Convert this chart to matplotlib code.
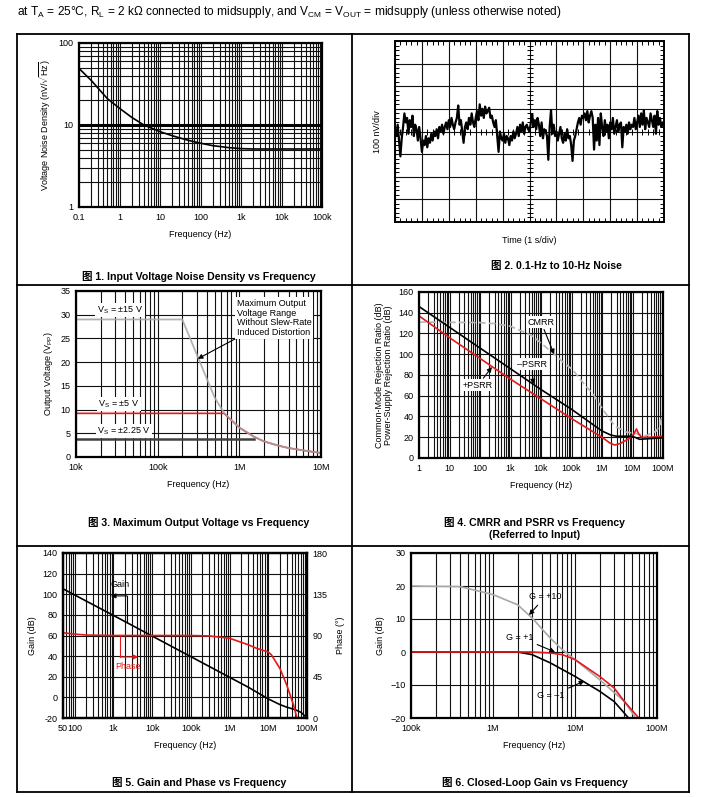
import matplotlib
matplotlib.use("Agg")
import matplotlib.pyplot as plt
import numpy as np
from matplotlib.ticker import LogLocator, NullFormatter, MultipleLocator
from matplotlib.lines import Line2D

plt.rcParams['font.family'] = ['Liberation Sans', 'Noto Sans CJK SC']
plt.rcParams['mathtext.fontset'] = 'custom'
plt.rcParams['mathtext.rm'] = 'Liberation Sans'
plt.rcParams['axes.unicode_minus'] = True

W, H = 714, 797
RED = '#e31a1c'
GRID = '#111111'
FS = 6.5

# ---- data ----
# fig 1: input voltage noise density
noise_f = [0.1, 0.2, 0.5, 1, 2, 4, 10, 20, 50, 100, 200, 500, 1000, 2000, 1e5]
noise_v = [49, 35, 21, 16, 12.4, 10, 8.3, 7.4, 6.5, 6.0, 5.6, 5.3, 5.15, 5.1, 5.1]

# fig 2: 0.1-Hz to 10-Hz noise, nV, one sample every 50 ms
noise_nv = [
    0, -20, 30, -40, -110, -30, 20, 80, 40, 60, -10, 50, 20, 70, -20, 30, 10, -40, 20, -30,
    -90, -40, -60, -20, -70, -30, -50, -10, -40, 0, -20, 10, -30, 20, 0, 30, -10, 20, 40, 10,
    50, 20, 60, 30, 10, 40, 60, 115, 30, 50, 0, -50, 20, 40, 10, 60, 30, 80, 40, 20,
    60, 90, 50, 120, 70, 100, 60, 110, 80, 90, 105, 60, 70, 40, 20, 50, -20, -90, 0, -30,
    -40, -10, -50, -20, -30, -60, -20, -40, 0, -30, -10, 20, -20, 30, 0, 40, -10, 20, 30, 10,
    0, 40, 75, 20, 50, 10, 60, 30, -20, 40, -30, 10, 0, -20, -125, 20, 95, -10, 30, -20,
    0, -40, -10, 20, -30, -50, -10, -40, 10, -30, -20, -60, -130, -40, -20, 10, 40, 60, 30, 70,
    60, 80, 50, 90, 40, 70, 90, 60, -80, 30, -40, 60, -60, 80, 20, -20, 50, 0, 30, -30,
    40, 10, 60, -10, 20, 50, 0, 30, 40, -70, 20, 0, 30, -10, 40, 10, 30, 20, 60, 10,
    40, 70, 20, 80, 30, 95, 10, 60, 40, 20, 80, 50, 20, 70, -10, 90, 30, 60, 20, 40, 30]
noise_t = np.arange(len(noise_nv)) * 0.05

# fig 3: maximum output voltage
vo15_f = [1e4, 2e5, 2.5e5, 3.15e5, 4e5, 5e5, 6.5e5, 1e6, 1.5e6, 2e6, 3e6, 4e6, 6e6, 1e7]
vo15_v = [29, 29, 25, 20.8, 16.5, 12.5, 9.3, 6.2, 4.3, 3.3, 2.4, 1.9, 1.4, 0.85]
vo5_f = [1e4, 6.5e5, 1e6, 1.5e6, 2e6, 3e6, 4e6, 6e6, 1e7]
vo5_v = [9.2, 9.2, 6.2, 4.3, 3.3, 2.4, 1.9, 1.4, 0.85]
vo2_f = [1e4, 1.5e6]
vo2_v = [3.8, 3.8]

# fig 4: CMRR / PSRR
psrrm_f = [1, 10, 100, 1e3, 1e4, 1e5, 1e6, 2e6, 3e6, 8e6, 1.2e7, 1.7e7, 3e7, 1e8]
psrrm_db = [146, 126, 106, 86, 66, 47, 26, 22, 21, 21, 20, 18, 18.5, 19.5]
psrrp_f = [1, 10, 100, 1e3, 1e4, 1e5, 1e6, 1.8e6, 2.6e6, 4e6, 8e6, 1.1e7, 1.35e7, 1.6e7, 2e7, 4e7, 1e8]
psrrp_db = [137, 116, 96, 76, 57, 38, 20, 14.5, 12.5, 14, 19, 23, 28, 23, 20, 20, 21]
cmrr_f = [1, 100, 300, 1e3, 5e3, 2.5e4, 5e4, 1.1e5, 3e5, 5e5, 1e6, 1.4e6, 2.3e6, 3e6,
          6.3e6, 1.3e7, 2.8e7, 6e7, 8e7, 1e8]
cmrr_db = [131, 130.5, 129.5, 127, 118, 101, 93, 85, 69, 62, 48, 42, 33, 30,
           25, 23.5, 21.5, 26, 32, 46]

# fig 5: open-loop gain and phase
gain_f = [50, 1e2, 1e3, 1e4, 1e5, 1e6, 3e6, 1e7, 2e7, 3e7, 5e7, 7e7, 1e8]
gain_db = [105.3, 99.3, 79.5, 59.5, 39.5, 19.5, 10, -1.5, -7, -9.5, -12, -14.5, -20]
phase_f = [50, 100, 200, 1e3, 1e5, 3e5, 1e6, 3e6, 5e6, 1e7, 1.2e7, 2e7, 3e7, 4.5e7, 5.5e7, 6e7]
phase_deg = [93, 91.5, 90.5, 90, 90, 89.5, 87, 80, 76, 72, 69, 54, 36, 14, 0, -10]

# fig 6: closed-loop gain
g10_f = [1e5, 4e5, 1e6, 2e6, 3e6, 5e6, 7e6, 1e7, 2e7, 4e7, 5.5e7]
g10_db = [20, 19.8, 17.4, 14.3, 10.3, 4.2, 0.7, -2.3, -8.4, -15, -20]
g1_f = [1e5, 3e6, 5e6, 7e6, 1e7, 2e7, 3e7, 4e7, 6e7]
g1_db = [0, 0, -0.3, -0.8, -2.3, -7.4, -10.9, -15, -20]
gm1_f = [1e5, 2e6, 3e6, 5e6, 1e7, 2e7, 3e7, 4.5e7]
gm1_db = [0, 0, -0.8, -3.3, -7.4, -11.9, -15, -20]


def box(x0, y0, x1, y1):
    return [x0 / W, 1 - y1 / H, (x1 - x0) / W, (y1 - y0) / H]


def style(ax):
    ax.tick_params(which='both', length=0, labelsize=FS, pad=4, colors='k')
    for s in ax.spines.values():
        s.set_linewidth(1.6)
        s.set_color('k')
    ax.set_axisbelow(True)


def logx(ax, lo, hi, ticks, labels):
    ax.set_xscale('log')
    ax.set_xlim(lo, hi)
    ax.set_xticks(ticks, labels)
    ax.xaxis.set_minor_locator(LogLocator(base=10, subs=np.arange(2, 10), numticks=60))
    ax.xaxis.set_minor_formatter(NullFormatter())
    ax.grid(True, which='both', axis='x', color=GRID, lw=0.8)


fig = plt.figure(figsize=(W / 100, H / 100), dpi=100)

# outer frame
for (xa, ya, xb, yb) in [(17, 34, 689, 34), (17, 792, 689, 792), (17, 34, 17, 792),
                         (689, 34, 689, 792), (352, 34, 352, 792),
                         (17, 285, 689, 285), (17, 546, 689, 546)]:
    fig.add_artist(Line2D([xa / W, xb / W], [1 - ya / H, 1 - yb / H], color='k', lw=1.3))

fig.text(17 / W, 1 - 12 / H,
         r'at T$_\mathregular{A}$ = 25°C, R$_\mathregular{L}$ = 2 kΩ connected to midsupply, '
         r'and V$_\mathregular{CM}$ = V$_\mathregular{OUT}$ = midsupply (unless otherwise noted)',
         fontsize=8.6, va='center', ha='left')

# ---- fig 1 ----
ax1 = fig.add_axes(box(79, 43, 322, 207))
style(ax1)
logx(ax1, 0.1, 1e5, [0.1, 1, 10, 100, 1e3, 1e4, 1e5],
     ['0.1', '1', '10', '100', '1k', '10k', '100k'])
ax1.set_yscale('log')
ax1.set_ylim(1, 100)
ax1.set_yticks([1, 10, 100], ['1', '10', '100'])
ax1.yaxis.set_minor_locator(LogLocator(base=10, subs=np.arange(2, 10), numticks=60))
ax1.yaxis.set_minor_formatter(NullFormatter())
ax1.grid(True, which='both', axis='y', color=GRID, lw=0.8)
ax1.axhline(10, color='k', lw=2.2)
ax1.plot(noise_f, noise_v, color='k', lw=1.2)
ax1.set_xlabel('Frequency (Hz)', fontsize=FS, labelpad=6)
ax1.set_ylabel(r'Voltage Noise Density (nV/$\sqrt{\mathregular{Hz}}$)', fontsize=FS, labelpad=4)

# ---- fig 2 ----
ax2 = fig.add_axes(box(395, 41, 664, 222))
ax2.set_xlim(0, 10)
ax2.set_ylim(-400, 400)
ax2.set_xticks(np.arange(0, 11, 1))
ax2.set_yticks(np.arange(-400, 401, 100))
ax2.xaxis.set_minor_locator(MultipleLocator(0.2))
ax2.yaxis.set_minor_locator(MultipleLocator(20))
ax2.tick_params(which='major', length=0, labelbottom=False, labelleft=False)
ax2.tick_params(which='minor', direction='in', length=3, width=0.7,
                top=True, right=True, bottom=True, left=True)
for s in ax2.spines.values():
    s.set_linewidth(1.4)
ax2.grid(True, which='major', color=GRID, lw=0.8)
ax2.set_axisbelow(True)
ax2.plot(np.arange(0, 10.01, 0.2), np.zeros(51), ls='none', marker='|', ms=4, mew=0.7, color='k')
ax2.plot(np.full(41, 5.0), np.arange(-400, 401, 20), ls='none', marker='_', ms=4, mew=0.7, color='k')
ax2.plot(noise_t, noise_nv, color='k', lw=1.6)
ax2.set_xlabel('Time (1 s/div)', fontsize=FS, labelpad=7)
ax2.set_ylabel('100 nV/div', fontsize=FS, labelpad=6)

# ---- fig 3 ----
ax3 = fig.add_axes(box(76, 291, 321, 457))
style(ax3)
logx(ax3, 1e4, 1e7, [1e4, 1e5, 1e6, 1e7], ['10k', '100k', '1M', '10M'])
ax3.set_ylim(0, 35)
ax3.set_yticks(np.arange(0, 36, 5))
ax3.grid(True, which='major', axis='y', color=GRID, lw=0.8)
ax3.plot(vo2_f, vo2_v, color='#404040', lw=1.8)
ax3.plot(vo5_f, vo5_v, color=RED, lw=1.2)
ax3.plot(vo15_f, vo15_v, color='#a6a6a6', lw=1.3, alpha=0.85)
ax3.set_xlabel('Frequency (Hz)', fontsize=FS, labelpad=6)
ax3.set_ylabel(r'Output Voltage (V$_\mathregular{PP}$)', fontsize=FS, labelpad=4)
wb = dict(fc='white', ec='none', pad=1.2)
ax3.text(3.45e4, 31, r'V$_\mathregular{S}$ = ±15 V', fontsize=FS, ha='center', va='center', bbox=wb)
ax3.text(3.36e4, 11.2, r'V$_\mathregular{S}$ = ±5 V', fontsize=FS, ha='center', va='center', bbox=wb)
ax3.text(3.87e4, 5.5, r'V$_\mathregular{S}$ = ±2.25 V', fontsize=FS, ha='center', va='center', bbox=wb)
ax3.annotate('Maximum Output\nVoltage Range\nWithout Slew-Rate\nInduced Distortion',
             xy=(3.1e5, 20.7), xytext=(9.3e5, 29.3), ha='left', va='center',
             fontsize=FS, linespacing=1.1, bbox=wb,
             arrowprops=dict(arrowstyle='-|>', color='k', lw=0.8, mutation_scale=7,
                             shrinkA=0, shrinkB=0))

# ---- fig 4 ----
ax4 = fig.add_axes(box(419, 292, 663, 458))
style(ax4)
logx(ax4, 1, 1e8, [1, 10, 100, 1e3, 1e4, 1e5, 1e6, 1e7, 1e8],
     ['1', '10', '100', '1k', '10k', '100k', '1M', '10M', '100M'])
ax4.set_ylim(0, 160)
ax4.set_yticks(np.arange(0, 161, 20))
ax4.grid(True, which='major', axis='y', color=GRID, lw=0.8)
ax4.plot(cmrr_f, cmrr_db, color='#b5b5b5', lw=1.2, ls=(0, (4, 2)))
ax4.plot(psrrp_f, psrrp_db, color=RED, lw=1.2)
ax4.plot(psrrm_f, psrrm_db, color='k', lw=1.2)
ax4.set_xlabel('Frequency (Hz)', fontsize=FS, labelpad=6)
ax4.set_ylabel('Common-Mode Rejection Ratio (dB)\nPower-Supply Rejection Ratio (dB)',
               fontsize=FS, labelpad=4, linespacing=1.0)
ap = dict(arrowstyle='-|>', color='k', lw=0.8, mutation_scale=7, shrinkA=1, shrinkB=0)
ax4.annotate('CMRR', xy=(2.7e4, 100), xytext=(1e4, 131), ha='center', va='center',
             fontsize=FS, bbox=wb, arrowprops=ap)
ax4.annotate('–PSRR', xy=(5.5e3, 71), xytext=(5e3, 90.6), ha='center', va='center',
             fontsize=FS, bbox=wb, arrowprops=ap)
ax4.annotate('+PSRR', xy=(246, 87.7), xytext=(85, 70), ha='center', va='center',
             fontsize=FS, bbox=wb, arrowprops=ap)

# ---- fig 5 ----
ax5 = fig.add_axes(box(63, 553, 307, 718))
style(ax5)
logx(ax5, 50, 1e8, [50, 100, 1e3, 1e4, 1e5, 1e6, 1e7, 1e8],
     ['50', '100', '1k', '10k', '100k', '1M', '10M', '100M'])
ax5.set_ylim(-20, 140)
ax5.set_yticks(np.arange(-20, 141, 20), [str(v) for v in range(-20, 141, 20)])
ax5.grid(True, which='major', axis='y', color=GRID, lw=0.8)
ax5.plot(gain_f, gain_db, color='k', lw=1.2)
ax5.set_xlabel('Frequency (Hz)', fontsize=FS, labelpad=6)
ax5.set_ylabel('Gain (dB)', fontsize=FS, labelpad=4)
ax5b = ax5.twinx()
style(ax5b)
ax5b.set_ylim(0, 180)
ax5b.set_yticks([0, 45, 90, 135, 180])
ax5b.plot(phase_f, phase_deg, color=RED, lw=1.2)
ax5b.set_ylabel('Phase (°)', fontsize=FS, labelpad=6)
ax5.text(1.45e3, 109, 'Gain', fontsize=FS, ha='center', va='center')
ax5.plot([2.25e3, 2.25e3], [73.2, 98.4], color='k', lw=0.8)
ax5.annotate('', xy=(8.6e2, 98.4), xytext=(2.25e3, 98.4),
             arrowprops=dict(arrowstyle='-|>', color='k', lw=0.8, mutation_scale=7,
                             shrinkA=0, shrinkB=0))
ax5.text(2.37e3, 29.5, 'Phase', fontsize=FS, ha='center', va='center', color=RED)
ax5.plot([1.48e3, 1.48e3], [60.6, 39.2], color=RED, lw=0.8)
ax5.annotate('', xy=(4.4e3, 39.2), xytext=(1.48e3, 39.2),
             arrowprops=dict(arrowstyle='-|>', color=RED, lw=0.8, mutation_scale=7,
                             shrinkA=0, shrinkB=0))

# ---- fig 6 ----
ax6 = fig.add_axes(box(411, 553, 657, 718))
style(ax6)
logx(ax6, 1e5, 1e8, [1e5, 1e6, 1e7, 1e8], ['100k', '1M', '10M', '100M'])
ax6.set_ylim(-20, 30)
ax6.set_yticks(np.arange(-20, 31, 10))
ax6.grid(True, which='major', axis='y', color=GRID, lw=0.8)
ax6.plot(gm1_f, gm1_db, color='k', lw=1.2)
ax6.plot(g10_f, g10_db, color='#a8a8a8', lw=1.2)
ax6.plot(g1_f, g1_db, color=RED, lw=1.2)
ax6.set_xlabel('Frequency (Hz)', fontsize=FS, labelpad=6)
ax6.set_ylabel('Gain (dB)', fontsize=FS, labelpad=4)
ax6.annotate('G = +10', xy=(2.75e6, 11.2), xytext=(4.3e6, 16.7), ha='center', va='center',
             fontsize=FS, arrowprops=ap)
ax6.annotate('G = +1', xy=(5.7e6, 0), xytext=(2.1e6, 4.5), ha='center', va='center',
             fontsize=FS, arrowprops=ap)
ax6.annotate('G = –1', xy=(1.3e7, -8.8), xytext=(5.1e6, -13.3), ha='center', va='center',
             fontsize=FS, arrowprops=ap)

# captions
for (cx, cy, txt) in [(199, 276, '图 1. Input Voltage Noise Density vs Frequency'),
                      (556, 266, '图 2. 0.1-Hz to 10-Hz Noise'),
                      (199, 522, '图 3. Maximum Output Voltage vs Frequency'),
                      (535, 529, '图 4. CMRR and PSRR vs Frequency\n(Referred to Input)'),
                      (199, 782, '图 5. Gain and Phase vs Frequency'),
                      (535, 782, '图 6. Closed-Loop Gain vs Frequency')]:
    fig.text(cx / W, 1 - cy / H, txt, fontsize=7.6, fontweight='bold', ha='center',
             va='center', linespacing=1.25)

fig.savefig('out.png', dpi=100)
